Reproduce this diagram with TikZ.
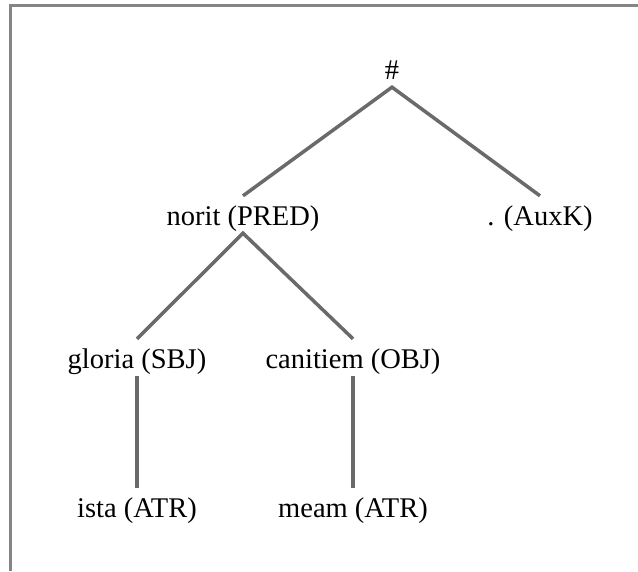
\documentclass[tikz,border=0pt]{standalone}
\usepackage{fontspec}
\setmainfont{Liberation Serif}
\definecolor{edgegray}{HTML}{6A6A6A}
\definecolor{framegray}{HTML}{858585}
\begin{document}
\begin{tikzpicture}[x=1pt,y=-1pt,
  word/.style={anchor=base, inner sep=0pt, text height=29pt, text depth=8pt,
               font=\fontsize{28.5}{30}\selectfont, text=black},
  branch/.style={draw=edgegray, line width=3.5pt}]
  % canvas and frame (top and left rules)
  \fill[white] (0,0) rectangle (638,571);
  \useasboundingbox (0,0) rectangle (638,571);
  \draw[framegray, line width=3pt] (10,571) -- (10,5) -- (638,5);

  % tree nodes
  \node[word] (root)  at (392,79)  {\#};
  \node[word] (pred)  at (243,225) {norit (PRED)};
  \node[word] (auxk)  at (540,225) {. (AuxK)};
  \node[word] (sbj)   at (137,368) {gloria (SBJ)};
  \node[word] (obj)   at (353,368) {canitiem (OBJ)};
  \node[word] (atr1)  at (137,517) {ista (ATR)};
  \node[word] (atr2)  at (353,517) {meam (ATR)};

  % dependency edges
  \draw[branch] (auxk.north) -- (root.south) -- (pred.north);
  \draw[branch] (obj.north) -- (pred.south) -- (sbj.north);
  \draw[branch] (sbj.south) -- (atr1.north);
  \draw[branch] (obj.south) -- (atr2.north);
\end{tikzpicture}
\end{document}
